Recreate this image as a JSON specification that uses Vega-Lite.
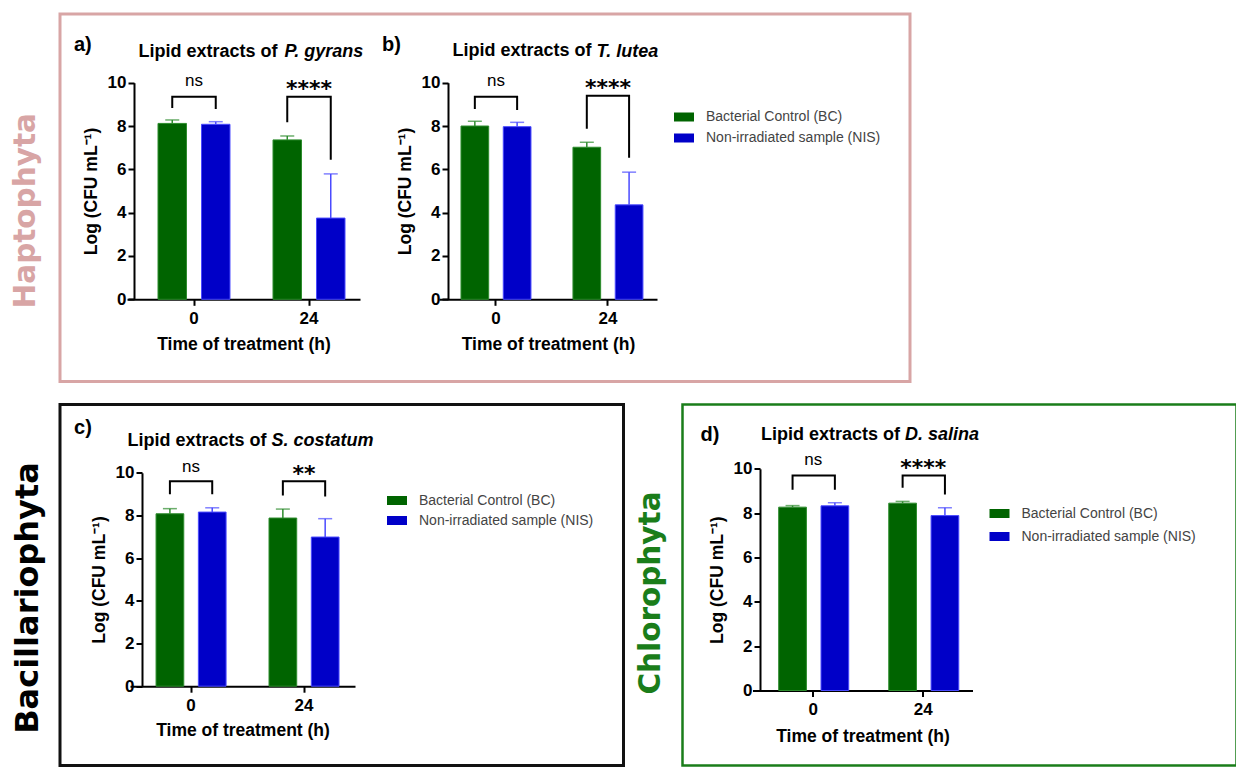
{
  "$schema": "https://vega.github.io/schema/vega-lite/v6.json",
  "padding": {"left": 8, "top": 12, "right": 0, "bottom": 0},
  "datasets": {
    "bars": [
      {"p": "a", "time": "0", "series": "Bacterial Control (BC)", "mean": 8.12, "upper": 8.28},
      {"p": "a", "time": "0", "series": "Non-irradiated sample (NIS)", "mean": 8.08, "upper": 8.2},
      {"p": "a", "time": "24", "series": "Bacterial Control (BC)", "mean": 7.36, "upper": 7.54},
      {"p": "a", "time": "24", "series": "Non-irradiated sample (NIS)", "mean": 3.75, "upper": 5.79},
      {"p": "b", "time": "0", "series": "Bacterial Control (BC)", "mean": 8.0, "upper": 8.22},
      {"p": "b", "time": "0", "series": "Non-irradiated sample (NIS)", "mean": 7.97, "upper": 8.17},
      {"p": "b", "time": "24", "series": "Bacterial Control (BC)", "mean": 7.02, "upper": 7.25},
      {"p": "b", "time": "24", "series": "Non-irradiated sample (NIS)", "mean": 4.36, "upper": 5.87},
      {"p": "c", "time": "0", "series": "Bacterial Control (BC)", "mean": 8.08, "upper": 8.32},
      {"p": "c", "time": "0", "series": "Non-irradiated sample (NIS)", "mean": 8.16, "upper": 8.36},
      {"p": "c", "time": "24", "series": "Bacterial Control (BC)", "mean": 7.88, "upper": 8.3},
      {"p": "c", "time": "24", "series": "Non-irradiated sample (NIS)", "mean": 6.99, "upper": 7.85},
      {"p": "d", "time": "0", "series": "Bacterial Control (BC)", "mean": 8.27, "upper": 8.34},
      {"p": "d", "time": "0", "series": "Non-irradiated sample (NIS)", "mean": 8.33, "upper": 8.47},
      {"p": "d", "time": "24", "series": "Bacterial Control (BC)", "mean": 8.45, "upper": 8.53},
      {"p": "d", "time": "24", "series": "Non-irradiated sample (NIS)", "mean": 7.89, "upper": 8.24}
    ],
    "br": [
      {"p": "a", "time": "0", "series": "Bacterial Control (BC)", "ord": 1, "v": 8.83},
      {"p": "a", "time": "0", "series": "Bacterial Control (BC)", "ord": 2, "v": 9.35},
      {"p": "a", "time": "0", "series": "Non-irradiated sample (NIS)", "ord": 3, "v": 9.35},
      {"p": "a", "time": "0", "series": "Non-irradiated sample (NIS)", "ord": 4, "v": 8.79},
      {"p": "a", "time": "24", "series": "Bacterial Control (BC)", "ord": 1, "v": 8.17},
      {"p": "a", "time": "24", "series": "Bacterial Control (BC)", "ord": 2, "v": 9.35},
      {"p": "a", "time": "24", "series": "Non-irradiated sample (NIS)", "ord": 3, "v": 9.35},
      {"p": "a", "time": "24", "series": "Non-irradiated sample (NIS)", "ord": 4, "v": 6.44},
      {"p": "b", "time": "0", "series": "Bacterial Control (BC)", "ord": 1, "v": 8.79},
      {"p": "b", "time": "0", "series": "Bacterial Control (BC)", "ord": 2, "v": 9.35},
      {"p": "b", "time": "0", "series": "Non-irradiated sample (NIS)", "ord": 3, "v": 9.35},
      {"p": "b", "time": "0", "series": "Non-irradiated sample (NIS)", "ord": 4, "v": 8.74},
      {"p": "b", "time": "24", "series": "Bacterial Control (BC)", "ord": 1, "v": 7.87},
      {"p": "b", "time": "24", "series": "Bacterial Control (BC)", "ord": 2, "v": 9.4},
      {"p": "b", "time": "24", "series": "Non-irradiated sample (NIS)", "ord": 3, "v": 9.4},
      {"p": "b", "time": "24", "series": "Non-irradiated sample (NIS)", "ord": 4, "v": 6.53},
      {"p": "c", "time": "0", "series": "Bacterial Control (BC)", "ord": 1, "v": 8.99},
      {"p": "c", "time": "0", "series": "Bacterial Control (BC)", "ord": 2, "v": 9.6},
      {"p": "c", "time": "0", "series": "Non-irradiated sample (NIS)", "ord": 3, "v": 9.6},
      {"p": "c", "time": "0", "series": "Non-irradiated sample (NIS)", "ord": 4, "v": 8.99},
      {"p": "c", "time": "24", "series": "Bacterial Control (BC)", "ord": 1, "v": 8.94},
      {"p": "c", "time": "24", "series": "Bacterial Control (BC)", "ord": 2, "v": 9.6},
      {"p": "c", "time": "24", "series": "Non-irradiated sample (NIS)", "ord": 3, "v": 9.6},
      {"p": "c", "time": "24", "series": "Non-irradiated sample (NIS)", "ord": 4, "v": 8.89},
      {"p": "d", "time": "0", "series": "Bacterial Control (BC)", "ord": 1, "v": 9.05},
      {"p": "d", "time": "0", "series": "Bacterial Control (BC)", "ord": 2, "v": 9.7},
      {"p": "d", "time": "0", "series": "Non-irradiated sample (NIS)", "ord": 3, "v": 9.7},
      {"p": "d", "time": "0", "series": "Non-irradiated sample (NIS)", "ord": 4, "v": 9.05},
      {"p": "d", "time": "24", "series": "Bacterial Control (BC)", "ord": 1, "v": 9.14},
      {"p": "d", "time": "24", "series": "Bacterial Control (BC)", "ord": 2, "v": 9.7},
      {"p": "d", "time": "24", "series": "Non-irradiated sample (NIS)", "ord": 3, "v": 9.7},
      {"p": "d", "time": "24", "series": "Non-irradiated sample (NIS)", "ord": 4, "v": 8.84}
    ],
    "sig": [
      {"p": "a", "time": "0", "label": "ns", "v": 9.85},
      {"p": "a", "time": "24", "label": "****", "v": 9.4},
      {"p": "b", "time": "0", "label": "ns", "v": 9.84},
      {"p": "b", "time": "24", "label": "****", "v": 9.45},
      {"p": "c", "time": "0", "label": "ns", "v": 10.03},
      {"p": "c", "time": "24", "label": "**", "v": 9.6},
      {"p": "d", "time": "0", "label": "ns", "v": 10.15},
      {"p": "d", "time": "24", "label": "****", "v": 9.72}
    ]
  },
  "spacing": 22.5,
  "bounds": "flush",
  "resolve": {"scale": {"color": "independent", "stroke": "independent", "fill": "independent"}, "legend": {"color": "independent"}},
  "vconcat": [
    {
      "width": 850,
      "height": 367.5,
      "view": {"stroke": "#d8a5a5", "strokeWidth": 3},
      "title": {"text": "Haptophyta", "orient": "left", "anchor": "middle", "font": "DejaVu Sans", "fontSize": 29.5, "fontWeight": "bold", "color": "#d8a5a5", "offset": 19, "dx": -13},
      "resolve": {"scale": {"x": "independent", "y": "independent", "xOffset": "independent"}, "axis": {"x": "independent", "y": "independent"}},
      "layer": [
        {
          "resolve": {"axis": {"x": "independent", "y": "independent"}},
          "layer": [
            {
              "data": {"name": "bars"},
              "transform": [{"filter": "datum.p == 'a'"}],
              "mark": {"type": "bar", "strokeWidth": 1},
              "encoding": {
                "x": {"field": "time", "type": "nominal", "sort": ["0", "24"],
                  "scale": {"range": [67, 300], "paddingInner": 0.374, "paddingOuter": 0.2, "align": 0.674},
                  "axis": {"orient": "bottom", "offset": -82.2, "title": "Time of treatment (h)", "labelAngle": 0, "labelPadding": 5, "titlePadding": 9}},
                "xOffset": {"field": "series", "type": "nominal", "scale": {"paddingInner": 0.345, "paddingOuter": 0}},
                "y": {"field": "mean", "type": "quantitative",
                  "scale": {"domain": [0, 10], "range": [285.3, 68.7], "nice": false},
                  "axis": {"orient": "left", "offset": -74, "values": [0, 2, 4, 6, 8, 10], "title": "Log (CFU mL⁻¹)", "titlePadding": 7, "labelPadding": 2}},
                "color": {"field": "series", "type": "nominal", "scale": {"domain": ["Bacterial Control (BC)", "Non-irradiated sample (NIS)"], "range": ["#006400", "#0000c8"]},
                  "legend": {"orient": "none", "legendX": 614, "legendY": 93, "title": null, "rowPadding": 4}},
                "stroke": {"field": "series", "type": "nominal", "scale": {"domain": ["Bacterial Control (BC)", "Non-irradiated sample (NIS)"], "range": ["#2d8c2d", "#4a4aff"]}, "legend": null}
              }
            },
            {
              "data": {"name": "bars"},
              "transform": [{"filter": "datum.p == 'a'"}],
              "mark": {"type": "rule", "strokeWidth": 1.5},
              "encoding": {
                "x": {"field": "time", "type": "nominal", "sort": ["0", "24"], "axis": null},
                "xOffset": {"field": "series", "type": "nominal"},
                "y": {"field": "mean", "type": "quantitative", "axis": null},
                "y2": {"field": "upper"},
                "stroke": {"field": "series", "type": "nominal", "legend": null}
              }
            },
            {
              "data": {"name": "bars"},
              "transform": [{"filter": "datum.p == 'a'"}],
              "mark": {"type": "tick", "thickness": 1.5, "size": 14, "orient": "horizontal"},
              "encoding": {
                "x": {"field": "time", "type": "nominal", "sort": ["0", "24"], "axis": null},
                "xOffset": {"field": "series", "type": "nominal"},
                "y": {"field": "upper", "type": "quantitative", "axis": null},
                "fill": {"field": "series", "type": "nominal", "scale": {"domain": ["Bacterial Control (BC)", "Non-irradiated sample (NIS)"], "range": ["#2d8c2d", "#4a4aff"]}, "legend": null}
              }
            },
            {
              "data": {"name": "br"},
              "transform": [{"filter": "datum.p == 'a'"}],
              "mark": {"type": "line", "color": "#000", "strokeWidth": 2},
              "encoding": {
                "x": {"field": "time", "type": "nominal", "sort": ["0", "24"], "axis": null},
                "xOffset": {"field": "series", "type": "nominal"},
                "y": {"field": "v", "type": "quantitative", "axis": null},
                "detail": {"field": "time"},
                "order": {"field": "ord", "type": "quantitative"}
              }
            },
            {
              "data": {"name": "sig"},
              "transform": [{"filter": "datum.p == 'a' && datum.label == 'ns'"}],
              "mark": {"type": "text", "font": "Liberation Sans", "fontSize": 17, "baseline": "alphabetic", "color": "#000"},
              "encoding": {
                "x": {"field": "time", "type": "nominal", "sort": ["0", "24"], "axis": null},
                "y": {"field": "v", "type": "quantitative", "axis": null},
                "text": {"field": "label"}
              }
            },
            {
              "data": {"name": "sig"},
              "transform": [{"filter": "datum.p == 'a' && datum.label != 'ns'"}],
              "mark": {"type": "text", "font": "DejaVu Sans", "fontWeight": "bold", "fontSize": 22, "baseline": "alphabetic", "color": "#000"},
              "encoding": {
                "x": {"field": "time", "type": "nominal", "sort": ["0", "24"],
                  "axis": {"orient": "top", "offset": -36, "domain": false, "ticks": false, "tickSize": 0, "labelAngle": 0, "labelExpr": "datum.value == '0' ? 'a)' : ''", "labelAlign": "left", "labelOffset": -120, "labelPadding": 0, "labelBaseline": "alphabetic", "labelFontSize": 20,
                    "title": "Lipid extracts of", "titleX": 78, "titleY": 6.7, "titleAlign": "left", "titleBaseline": "alphabetic", "titleFontSize": 18}},
                "y": {"field": "v", "type": "quantitative",
                  "axis": {"orient": "right", "domain": false, "ticks": false, "labels": false, "title": "P. gyrans", "titleAngle": 0, "titleX": -626, "titleY": 42.7, "titleAlign": "left", "titleBaseline": "alphabetic", "titleFontStyle": "italic", "titleFontSize": 18}},
                "text": {"field": "label"}
              }
            }
          ]
        },
        {
          "resolve": {"axis": {"x": "independent", "y": "independent"}},
          "layer": [
            {
              "data": {"name": "bars"},
              "transform": [{"filter": "datum.p == 'b'"}],
              "mark": {"type": "bar", "strokeWidth": 1},
              "encoding": {
                "x": {"field": "time", "type": "nominal", "sort": ["0", "24"],
                  "scale": {"range": [379, 597], "paddingInner": 0.375, "paddingOuter": 0.161, "align": 0.61},
                  "axis": {"orient": "bottom", "offset": -82.2, "title": "Time of treatment (h)", "labelAngle": 0, "labelPadding": 5, "titlePadding": 9}},
                "xOffset": {"field": "series", "type": "nominal", "scale": {"paddingInner": 0.345, "paddingOuter": 0}},
                "y": {"field": "mean", "type": "quantitative",
                  "scale": {"domain": [0, 10], "range": [285.3, 68.7], "nice": false},
                  "axis": {"orient": "left", "offset": -388, "values": [0, 2, 4, 6, 8, 10], "title": "Log (CFU mL⁻¹)", "titlePadding": 7, "labelPadding": 2}},
                "color": {"field": "series", "type": "nominal", "scale": {"domain": ["Bacterial Control (BC)", "Non-irradiated sample (NIS)"], "range": ["#006400", "#0000c8"]},
                  "legend": {"orient": "none", "legendX": 614, "legendY": 93, "title": null, "rowPadding": 4}},
                "stroke": {"field": "series", "type": "nominal", "scale": {"domain": ["Bacterial Control (BC)", "Non-irradiated sample (NIS)"], "range": ["#2d8c2d", "#4a4aff"]}, "legend": null}
              }
            },
            {
              "data": {"name": "bars"},
              "transform": [{"filter": "datum.p == 'b'"}],
              "mark": {"type": "rule", "strokeWidth": 1.5},
              "encoding": {
                "x": {"field": "time", "type": "nominal", "sort": ["0", "24"], "axis": null},
                "xOffset": {"field": "series", "type": "nominal"},
                "y": {"field": "mean", "type": "quantitative", "axis": null},
                "y2": {"field": "upper"},
                "stroke": {"field": "series", "type": "nominal", "legend": null}
              }
            },
            {
              "data": {"name": "bars"},
              "transform": [{"filter": "datum.p == 'b'"}],
              "mark": {"type": "tick", "thickness": 1.5, "size": 14, "orient": "horizontal"},
              "encoding": {
                "x": {"field": "time", "type": "nominal", "sort": ["0", "24"], "axis": null},
                "xOffset": {"field": "series", "type": "nominal"},
                "y": {"field": "upper", "type": "quantitative", "axis": null},
                "fill": {"field": "series", "type": "nominal", "scale": {"domain": ["Bacterial Control (BC)", "Non-irradiated sample (NIS)"], "range": ["#2d8c2d", "#4a4aff"]}, "legend": null}
              }
            },
            {
              "data": {"name": "br"},
              "transform": [{"filter": "datum.p == 'b'"}],
              "mark": {"type": "line", "color": "#000", "strokeWidth": 2},
              "encoding": {
                "x": {"field": "time", "type": "nominal", "sort": ["0", "24"], "axis": null},
                "xOffset": {"field": "series", "type": "nominal"},
                "y": {"field": "v", "type": "quantitative", "axis": null},
                "detail": {"field": "time"},
                "order": {"field": "ord", "type": "quantitative"}
              }
            },
            {
              "data": {"name": "sig"},
              "transform": [{"filter": "datum.p == 'b' && datum.label == 'ns'"}],
              "mark": {"type": "text", "font": "Liberation Sans", "fontSize": 17, "baseline": "alphabetic", "color": "#000"},
              "encoding": {
                "x": {"field": "time", "type": "nominal", "sort": ["0", "24"], "axis": null},
                "y": {"field": "v", "type": "quantitative", "axis": null},
                "text": {"field": "label"}
              }
            },
            {
              "data": {"name": "sig"},
              "transform": [{"filter": "datum.p == 'b' && datum.label != 'ns'"}],
              "mark": {"type": "text", "font": "DejaVu Sans", "fontWeight": "bold", "fontSize": 22, "baseline": "alphabetic", "color": "#000"},
              "encoding": {
                "x": {"field": "time", "type": "nominal", "sort": ["0", "24"],
                  "axis": {"orient": "top", "offset": -36.7, "domain": false, "ticks": false, "tickSize": 0, "labelAngle": 0, "labelExpr": "datum.value == '0' ? 'b)' : ''", "labelAlign": "left", "labelOffset": -114, "labelPadding": 0, "labelBaseline": "alphabetic", "labelFontSize": 20,
                    "title": "Lipid extracts of", "titleX": 392, "titleY": 5, "titleAlign": "left", "titleBaseline": "alphabetic", "titleFontSize": 18}},
                "y": {"field": "v", "type": "quantitative",
                  "axis": {"orient": "right", "domain": false, "ticks": false, "labels": false, "title": "T. lutea", "titleAngle": 0, "titleX": -314, "titleY": 42, "titleAlign": "left", "titleBaseline": "alphabetic", "titleFontStyle": "italic", "titleFontSize": 18}},
                "text": {"field": "label"}
              }
            }
          ]
        }
      ]
    },
    {
      "spacing": 58.5,
      "bounds": "flush",
      "resolve": {"scale": {"color": "independent", "stroke": "independent", "fill": "independent"}, "legend": {"color": "independent"}},
      "hconcat": [
        {
          "width": 563.5,
          "height": 361,
          "view": {"stroke": "#111111", "strokeWidth": 3},
          "title": {"text": "Bacillariophyta", "orient": "left", "anchor": "middle", "font": "DejaVu Sans", "fontSize": 32, "fontWeight": "bold", "color": "#000000", "offset": 15, "dx": -13},
          "resolve": {"axis": {"x": "independent", "y": "independent"}},
          "layer": [
            {
              "data": {"name": "bars"},
              "transform": [{"filter": "datum.p == 'c'"}],
              "mark": {"type": "bar", "strokeWidth": 1},
              "encoding": {
                "x": {"field": "time", "type": "nominal", "sort": ["0", "24"],
                  "scale": {"range": [70, 295], "paddingInner": 0.38, "paddingOuter": 0.186, "align": 0.62},
                  "axis": {"orient": "bottom", "offset": -79.3, "title": "Time of treatment (h)", "labelAngle": 0, "labelPadding": 5, "titlePadding": 8}},
                "xOffset": {"field": "series", "type": "nominal", "scale": {"paddingInner": 0.345, "paddingOuter": 0}},
                "y": {"field": "mean", "type": "quantitative",
                  "scale": {"domain": [0, 10], "range": [281.7, 68.3], "nice": false},
                  "axis": {"orient": "left", "offset": -82, "values": [0, 2, 4, 6, 8, 10], "title": "Log (CFU mL⁻¹)", "titlePadding": 7, "labelPadding": 2}},
                "color": {"field": "series", "type": "nominal", "scale": {"domain": ["Bacterial Control (BC)", "Non-irradiated sample (NIS)"], "range": ["#006400", "#0000c8"]},
                  "legend": {"orient": "none", "legendX": 327, "legendY": 86, "title": null, "rowPadding": 3}},
                "stroke": {"field": "series", "type": "nominal", "scale": {"domain": ["Bacterial Control (BC)", "Non-irradiated sample (NIS)"], "range": ["#2d8c2d", "#4a4aff"]}, "legend": null}
              }
            },
            {
              "data": {"name": "bars"},
              "transform": [{"filter": "datum.p == 'c'"}],
              "mark": {"type": "rule", "strokeWidth": 1.5},
              "encoding": {
                "x": {"field": "time", "type": "nominal", "sort": ["0", "24"], "axis": null},
                "xOffset": {"field": "series", "type": "nominal"},
                "y": {"field": "mean", "type": "quantitative", "axis": null},
                "y2": {"field": "upper"},
                "stroke": {"field": "series", "type": "nominal", "legend": null}
              }
            },
            {
              "data": {"name": "bars"},
              "transform": [{"filter": "datum.p == 'c'"}],
              "mark": {"type": "tick", "thickness": 1.5, "size": 14, "orient": "horizontal"},
              "encoding": {
                "x": {"field": "time", "type": "nominal", "sort": ["0", "24"], "axis": null},
                "xOffset": {"field": "series", "type": "nominal"},
                "y": {"field": "upper", "type": "quantitative", "axis": null},
                "fill": {"field": "series", "type": "nominal", "scale": {"domain": ["Bacterial Control (BC)", "Non-irradiated sample (NIS)"], "range": ["#2d8c2d", "#4a4aff"]}, "legend": null}
              }
            },
            {
              "data": {"name": "br"},
              "transform": [{"filter": "datum.p == 'c'"}],
              "mark": {"type": "line", "color": "#000", "strokeWidth": 2},
              "encoding": {
                "x": {"field": "time", "type": "nominal", "sort": ["0", "24"], "axis": null},
                "xOffset": {"field": "series", "type": "nominal"},
                "y": {"field": "v", "type": "quantitative", "axis": null},
                "detail": {"field": "time"},
                "order": {"field": "ord", "type": "quantitative"}
              }
            },
            {
              "data": {"name": "sig"},
              "transform": [{"filter": "datum.p == 'c' && datum.label == 'ns'"}],
              "mark": {"type": "text", "font": "Liberation Sans", "fontSize": 17, "baseline": "alphabetic", "color": "#000"},
              "encoding": {
                "x": {"field": "time", "type": "nominal", "sort": ["0", "24"], "axis": null},
                "y": {"field": "v", "type": "quantitative", "axis": null},
                "text": {"field": "label"}
              }
            },
            {
              "data": {"name": "sig"},
              "transform": [{"filter": "datum.p == 'c' && datum.label != 'ns'"}],
              "mark": {"type": "text", "font": "DejaVu Sans", "fontWeight": "bold", "fontSize": 22, "baseline": "alphabetic", "color": "#000"},
              "encoding": {
                "x": {"field": "time", "type": "nominal", "sort": ["0", "24"],
                  "axis": {"orient": "top", "offset": -29, "domain": false, "ticks": false, "tickSize": 0, "labelAngle": 0, "labelExpr": "datum.value == '0' ? 'c)' : ''", "labelAlign": "left", "labelOffset": -117, "labelPadding": 0, "labelBaseline": "alphabetic", "labelFontSize": 20,
                    "title": "Lipid extracts of", "titleX": 67, "titleY": 12, "titleAlign": "left", "titleBaseline": "alphabetic", "titleFontSize": 18}},
                "y": {"field": "v", "type": "quantitative",
                  "axis": {"orient": "right", "domain": false, "ticks": false, "labels": false, "title": "S. costatum", "titleAngle": 0, "titleX": -352.5, "titleY": 41, "titleAlign": "left", "titleBaseline": "alphabetic", "titleFontStyle": "italic", "titleFontSize": 18}},
                "text": {"field": "label"}
              }
            }
          ]
        },
        {
          "width": 554,
          "height": 361,
          "view": {"stroke": "#1a7d1a", "strokeWidth": 2.5},
          "title": {"text": "Chlorophyta", "orient": "left", "anchor": "middle", "font": "DejaVu Sans", "fontSize": 29.5, "fontWeight": "bold", "color": "#1a7d1a", "offset": 16, "dx": -8},
          "resolve": {"axis": {"x": "independent", "y": "independent"}},
          "layer": [
            {
              "data": {"name": "bars"},
              "transform": [{"filter": "datum.p == 'd'"}],
              "mark": {"type": "bar", "strokeWidth": 1},
              "encoding": {
                "x": {"field": "time", "type": "nominal", "sort": ["0", "24"],
                  "scale": {"range": [70, 290], "paddingInner": 0.373, "paddingOuter": 0.186, "align": 0.64},
                  "axis": {"orient": "bottom", "offset": -75, "title": "Time of treatment (h)", "labelAngle": 0, "labelPadding": 5, "titlePadding": 10}},
                "xOffset": {"field": "series", "type": "nominal", "scale": {"paddingInner": 0.345, "paddingOuter": 0}},
                "y": {"field": "mean", "type": "quantitative",
                  "scale": {"domain": [0, 10], "range": [286, 64.3], "nice": false},
                  "axis": {"orient": "left", "offset": -77.5, "values": [0, 2, 4, 6, 8, 10], "title": "Log (CFU mL⁻¹)", "titlePadding": 7, "labelPadding": 2}},
                "color": {"field": "series", "type": "nominal", "scale": {"domain": ["Bacterial Control (BC)", "Non-irradiated sample (NIS)"], "range": ["#006400", "#0000c8"]},
                  "legend": {"orient": "none", "legendX": 307, "legendY": 99, "title": null, "rowPadding": 6}},
                "stroke": {"field": "series", "type": "nominal", "scale": {"domain": ["Bacterial Control (BC)", "Non-irradiated sample (NIS)"], "range": ["#2d8c2d", "#4a4aff"]}, "legend": null}
              }
            },
            {
              "data": {"name": "bars"},
              "transform": [{"filter": "datum.p == 'd'"}],
              "mark": {"type": "rule", "strokeWidth": 1.5},
              "encoding": {
                "x": {"field": "time", "type": "nominal", "sort": ["0", "24"], "axis": null},
                "xOffset": {"field": "series", "type": "nominal"},
                "y": {"field": "mean", "type": "quantitative", "axis": null},
                "y2": {"field": "upper"},
                "stroke": {"field": "series", "type": "nominal", "legend": null}
              }
            },
            {
              "data": {"name": "bars"},
              "transform": [{"filter": "datum.p == 'd'"}],
              "mark": {"type": "tick", "thickness": 1.5, "size": 14, "orient": "horizontal"},
              "encoding": {
                "x": {"field": "time", "type": "nominal", "sort": ["0", "24"], "axis": null},
                "xOffset": {"field": "series", "type": "nominal"},
                "y": {"field": "upper", "type": "quantitative", "axis": null},
                "fill": {"field": "series", "type": "nominal", "scale": {"domain": ["Bacterial Control (BC)", "Non-irradiated sample (NIS)"], "range": ["#2d8c2d", "#4a4aff"]}, "legend": null}
              }
            },
            {
              "data": {"name": "br"},
              "transform": [{"filter": "datum.p == 'd'"}],
              "mark": {"type": "line", "color": "#000", "strokeWidth": 2},
              "encoding": {
                "x": {"field": "time", "type": "nominal", "sort": ["0", "24"], "axis": null},
                "xOffset": {"field": "series", "type": "nominal"},
                "y": {"field": "v", "type": "quantitative", "axis": null},
                "detail": {"field": "time"},
                "order": {"field": "ord", "type": "quantitative"}
              }
            },
            {
              "data": {"name": "sig"},
              "transform": [{"filter": "datum.p == 'd' && datum.label == 'ns'"}],
              "mark": {"type": "text", "font": "Liberation Sans", "fontSize": 17, "baseline": "alphabetic", "color": "#000"},
              "encoding": {
                "x": {"field": "time", "type": "nominal", "sort": ["0", "24"], "axis": null},
                "y": {"field": "v", "type": "quantitative", "axis": null},
                "text": {"field": "label"}
              }
            },
            {
              "data": {"name": "sig"},
              "transform": [{"filter": "datum.p == 'd' && datum.label != 'ns'"}],
              "mark": {"type": "text", "font": "DejaVu Sans", "fontWeight": "bold", "fontSize": 22, "baseline": "alphabetic", "color": "#000"},
              "encoding": {
                "x": {"field": "time", "type": "nominal", "sort": ["0", "24"],
                  "axis": {"orient": "top", "offset": -36, "domain": false, "ticks": false, "tickSize": 0, "labelAngle": 0, "labelExpr": "datum.value == '0' ? 'd)' : ''", "labelAlign": "left", "labelOffset": -112.7, "labelPadding": 0, "labelBaseline": "alphabetic", "labelFontSize": 20,
                    "title": "Lipid extracts of", "titleX": 78, "titleY": -1, "titleAlign": "left", "titleBaseline": "alphabetic", "titleFontSize": 18}},
                "y": {"field": "v", "type": "quantitative",
                  "axis": {"orient": "right", "domain": false, "ticks": false, "labels": false, "title": "D. salina", "titleAngle": 0, "titleX": -332, "titleY": 35, "titleAlign": "left", "titleBaseline": "alphabetic", "titleFontStyle": "italic", "titleFontSize": 18}},
                "text": {"field": "label"}
              }
            }
          ]
        }
      ]
    }
  ],
  "config": {
    "view": {"stroke": null},
    "font": "Liberation Sans",
    "axis": {"grid": false, "domainColor": "#000", "domainWidth": 2, "tickColor": "#000", "tickWidth": 2, "tickSize": 6,
      "labelFont": "Liberation Sans", "labelFontSize": 17, "labelFontWeight": "bold", "labelColor": "#000",
      "titleFont": "Liberation Sans", "titleFontSize": 17.5, "titleFontWeight": "bold", "titleColor": "#000"},
    "legend": {"labelFont": "Liberation Sans", "labelFontSize": 14, "labelColor": "#444444", "labelLimit": 400, "symbolType": "M-1,-0.45L1,-0.45L1,0.45L-1,0.45Z", "symbolSize": 400, "symbolStrokeWidth": 0, "labelOffset": 12}
  }
}
